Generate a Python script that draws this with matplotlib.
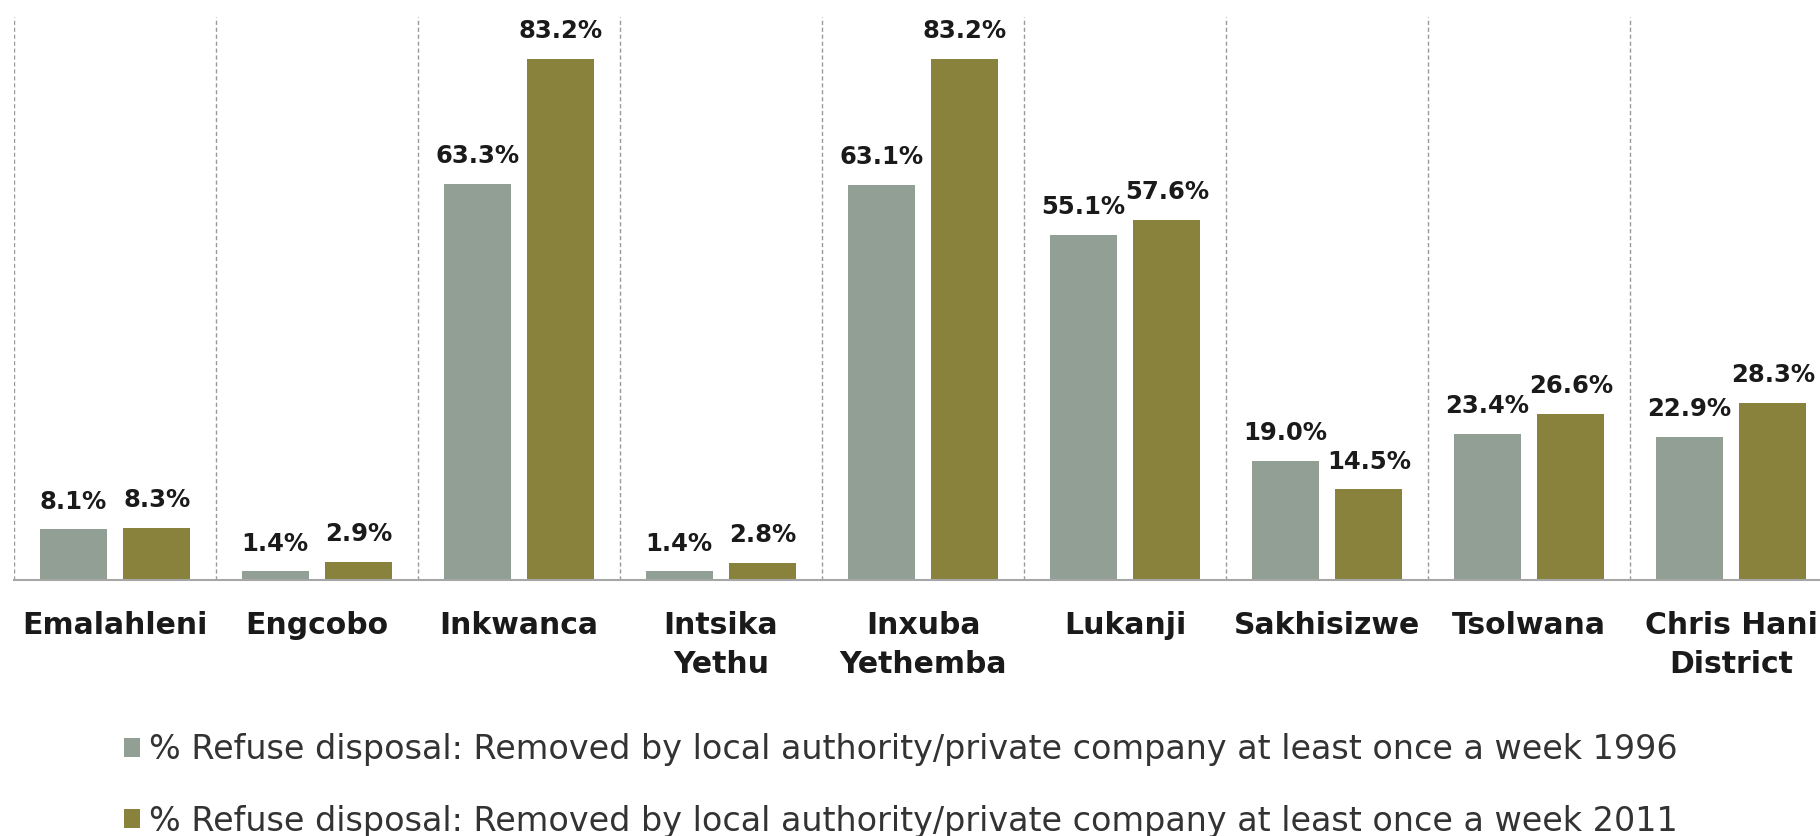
import matplotlib.pyplot as plt
import numpy as np

categories = ['Emalahleni', 'Engcobo', 'Inkwanca', 'Intsika\nYethu', 'Inxuba\nYethemba',
              'Lukanji', 'Sakhisizwe', 'Tsolwana', 'Chris Hani\nDistrict']
refuse_1996 = [8.1, 1.4, 63.3, 1.4, 63.1, 55.1, 19.0, 23.4, 22.9]
refuse_2011 = [8.3, 2.9, 83.2, 2.8, 83.2, 57.6, 14.5, 26.6, 28.3]
series_names = [
    '% Refuse disposal: Removed by local authority/private company at least once a week 1996',
    '% Refuse disposal: Removed by local authority/private company at least once a week 2011',
]

plt.rcParams['font.family'] = ['DejaVu Sans']

fig = plt.figure(figsize=(18.2, 8.36), dpi=100)
ax = fig.add_axes([0.0077, 0.306, 0.9989, 0.674])

x = np.arange(len(categories))
width = 0.33
offset = 0.207
bars_96 = ax.bar(x - offset, refuse_1996, width, color='#929f94', label=series_names[0])
bars_11 = ax.bar(x + offset, refuse_2011, width, color='#88823d', label=series_names[1])

# value labels above bars
for bars, vals in ((bars_96, refuse_1996), (bars_11, refuse_2011)):
    for rect, v in zip(bars, vals):
        ax.annotate(f'{v:.1f}%', (rect.get_x() + rect.get_width() / 2, rect.get_height()),
                    xytext=(0, 15), textcoords='offset points', ha='center', va='baseline',
                    fontsize=17.5, fontweight='bold', color='#1a1a1a')

ax.set_xlim(-0.5, len(categories) - 0.5)
ax.set_ylim(0, 90)

# dashed separators between groups
for b in np.arange(-0.5, len(categories), 1):
    ax.axvline(b, color='#999999', lw=1, ls=(0, (3, 2)), zorder=0)

for s in ['top', 'right', 'left']:
    ax.spines[s].set_visible(False)
ax.spines['bottom'].set_color('#a6a6a6')
ax.spines['bottom'].set_linewidth(1.5)
ax.set_yticks([])
ax.set_xticks(x)
ax.set_xticklabels(categories, fontsize=21.5, fontweight='bold', color='#1a1a1a', linespacing=1.45)
ax.tick_params(axis='x', length=0, pad=22)

fig.legend(loc='upper left', bbox_to_anchor=(0.068, 0.123), frameon=False, fontsize=24,
           handlelength=0.5, handleheight=0.5, handletextpad=0.25, labelspacing=1.15,
           labelcolor='#333333', borderaxespad=0, borderpad=0)

fig.savefig('out.png', dpi=100)
